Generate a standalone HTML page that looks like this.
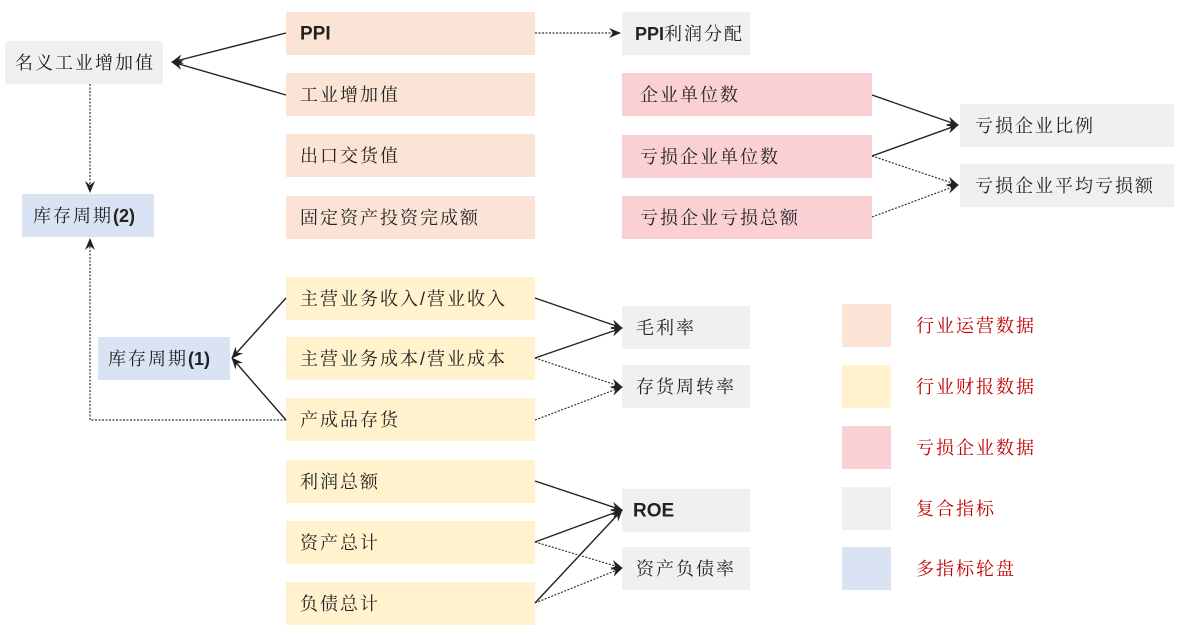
<!DOCTYPE html>
<html><head><meta charset="utf-8"><style>
html,body{margin:0;padding:0;background:#fff;width:1182px;height:630px;overflow:hidden}
svg text{font-family:"Liberation Sans","Noto Serif CJK SC","Noto Sans CJK SC",serif;font-size:18px;letter-spacing:2px;fill:#222;dominant-baseline:central}
.b{font-weight:bold;font-family:"Liberation Sans","Noto Sans CJK SC",sans-serif;font-size:19px;letter-spacing:0}
.r{fill:#c00000}
</style></head><body>
<svg width="1182" height="630" viewBox="0 0 1182 630" xmlns="http://www.w3.org/2000/svg">
<defs>
<marker id="a" markerWidth="12" markerHeight="10" refX="11" refY="5" orient="auto" markerUnits="userSpaceOnUse">
<path d="M0,0 L12,5 L0,10 L4,5 z" fill="#222"/></marker>
</defs>
<g>
<rect x="286" y="12" width="249" height="43" fill="#fbe4d5"/>
<rect x="286" y="73" width="249" height="43" fill="#fbe4d5"/>
<rect x="286" y="134" width="249" height="43" fill="#fbe4d5"/>
<rect x="286" y="196" width="249" height="43" fill="#fbe4d5"/>
<rect x="286" y="277" width="249" height="43" fill="#fff2cc"/>
<rect x="286" y="337" width="249" height="43" fill="#fff2cc"/>
<rect x="286" y="398" width="249" height="43" fill="#fff2cc"/>
<rect x="286" y="460" width="249" height="43" fill="#fff2cc"/>
<rect x="286" y="521" width="249" height="43" fill="#fff2cc"/>
<rect x="286" y="582" width="249" height="43" fill="#fff2cc"/>
<rect x="5" y="41" width="158" height="43" fill="#f0f0f0"/>
<rect x="22" y="194" width="132" height="43" fill="#dae3f3"/>
<rect x="98" y="337" width="132" height="43" fill="#dae3f3"/>
<rect x="622" y="12" width="128" height="43" fill="#f0f0f0"/>
<rect x="622" y="73" width="250" height="43" fill="#fbd0d5"/>
<rect x="622" y="135" width="250" height="43" fill="#fbd0d5"/>
<rect x="622" y="196" width="250" height="43" fill="#fbd0d5"/>
<rect x="960" y="104" width="214" height="43" fill="#f0f0f0"/>
<rect x="960" y="164" width="214" height="43" fill="#f0f0f0"/>
<rect x="622" y="306" width="128" height="43" fill="#f0f0f0"/>
<rect x="622" y="365" width="128" height="43" fill="#f0f0f0"/>
<rect x="622" y="489" width="128" height="43" fill="#f0f0f0"/>
<rect x="622" y="547" width="128" height="43" fill="#f0f0f0"/>
<rect x="842" y="304" width="49" height="43" fill="#fbe4d5"/>
<rect x="842" y="365" width="49" height="43" fill="#fff2cc"/>
<rect x="842" y="426" width="49" height="43" fill="#fbd0d5"/>
<rect x="842" y="487" width="49" height="43" fill="#f0f0f0"/>
<rect x="842" y="547" width="49" height="43" fill="#dae3f3"/>
</g>
<g stroke="#222" stroke-width="1.4" fill="none">
<line x1="286" y1="33" x2="172" y2="62" marker-end="url(#a)"/>
<line x1="286" y1="95" x2="172" y2="62" marker-end="url(#a)"/>
<line x1="286" y1="298" x2="232" y2="358" marker-end="url(#a)"/>
<line x1="286" y1="420" x2="232" y2="358" marker-end="url(#a)"/>
<line x1="535" y1="298" x2="622" y2="328" marker-end="url(#a)"/>
<line x1="535" y1="358" x2="622" y2="328" marker-end="url(#a)"/>
<line x1="535" y1="481" x2="622" y2="510" marker-end="url(#a)"/>
<line x1="535" y1="542" x2="622" y2="510" marker-end="url(#a)"/>
<line x1="535" y1="603" x2="622" y2="510" marker-end="url(#a)"/>
<line x1="872" y1="95" x2="958" y2="125" marker-end="url(#a)"/>
<line x1="872" y1="156" x2="958" y2="125" marker-end="url(#a)"/>
</g>
<g stroke="#333" stroke-width="1.2" fill="none" stroke-dasharray="2,1.5">
<line x1="535" y1="33" x2="620" y2="33" marker-end="url(#a)"/>
<line x1="90" y1="84" x2="90" y2="192" marker-end="url(#a)"/>
<polyline points="286,420 90,420 90,239" marker-end="url(#a)"/>
<line x1="535" y1="358" x2="622" y2="387" marker-end="url(#a)"/>
<line x1="535" y1="420" x2="622" y2="387" marker-end="url(#a)"/>
<line x1="535" y1="542" x2="622" y2="568" marker-end="url(#a)"/>
<line x1="535" y1="603" x2="622" y2="568" marker-end="url(#a)"/>
<line x1="872" y1="156" x2="958" y2="185" marker-end="url(#a)"/>
<line x1="872" y1="217" x2="958" y2="185" marker-end="url(#a)"/>
</g>
<text x="300" y="34" class="b">PPI</text>
<text x="300" y="95">工业增加值</text>
<text x="300" y="156">出口交货值</text>
<text x="300" y="218">固定资产投资完成额</text>
<text x="300" y="299">主营业务收入/营业收入</text>
<text x="300" y="359">主营业务成本/营业成本</text>
<text x="300" y="420">产成品存货</text>
<text x="300" y="482">利润总额</text>
<text x="300" y="543">资产总计</text>
<text x="300" y="604">负债总计</text>
<text x="15" y="63">名义工业增加值</text>
<text x="33" y="216">库存周期<tspan style="font-weight:bold;font-family:'Liberation Sans',sans-serif;letter-spacing:0">(2)</tspan></text>
<text x="108" y="359">库存周期<tspan style="font-weight:bold;font-family:'Liberation Sans',sans-serif;letter-spacing:0">(1)</tspan></text>
<text x="635" y="34"><tspan class="b" style="font-size:18px">PPI</tspan>利润分配</text>
<text x="640" y="95">企业单位数</text>
<text x="640" y="157">亏损企业单位数</text>
<text x="640" y="218">亏损企业亏损总额</text>
<text x="975" y="126">亏损企业比例</text>
<text x="975" y="186">亏损企业平均亏损额</text>
<text x="636" y="328">毛利率</text>
<text x="636" y="387">存货周转率</text>
<text x="633" y="511" class="b">ROE</text>
<text x="636" y="569">资产负债率</text>
<text x="916" y="326" class="r">行业运营数据</text>
<text x="916" y="387" class="r">行业财报数据</text>
<text x="916" y="448" class="r">亏损企业数据</text>
<text x="916" y="509" class="r">复合指标</text>
<text x="916" y="569" class="r">多指标轮盘</text>
</svg>
</body></html>
